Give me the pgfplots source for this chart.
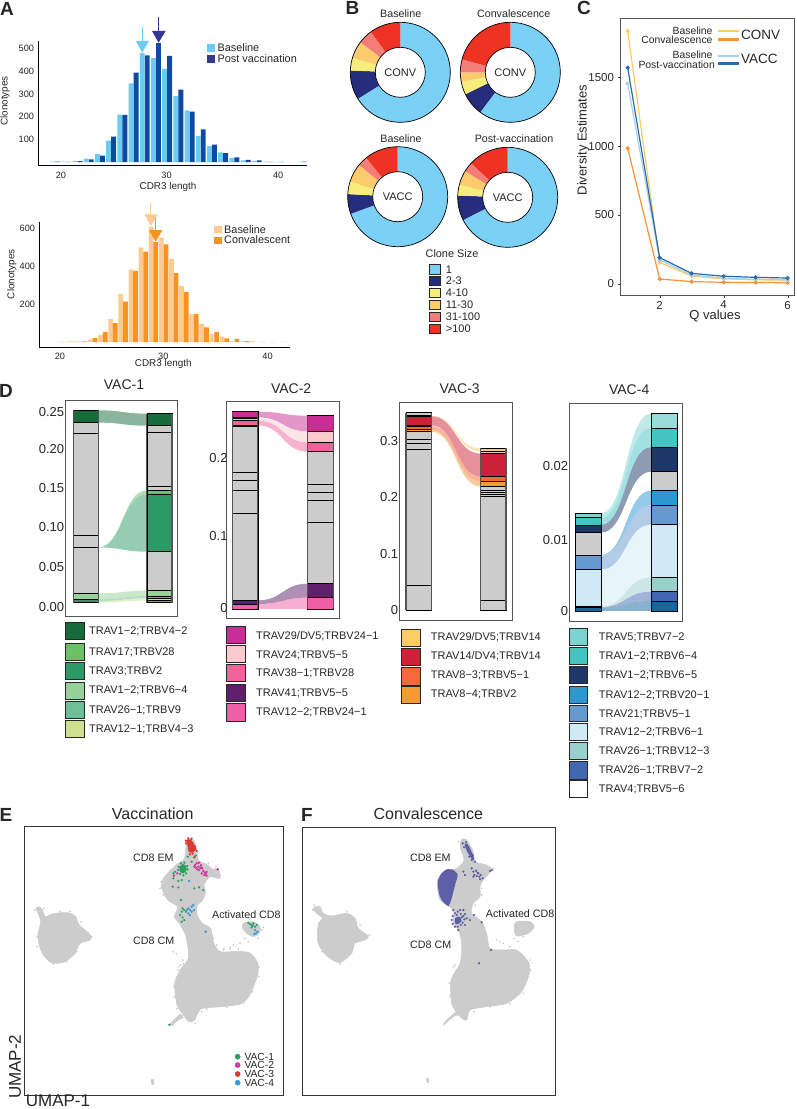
\documentclass[border=0pt]{standalone}
\usepackage{fontspec}
\setmainfont{Liberation Sans}
\usepackage{pgfplots}
\pgfplotsset{compat=1.18}

% colours
\definecolor{cbase}{HTML}{6CCBF5}\definecolor{cpost}{HTML}{1249A0}\definecolor{cpostar}{HTML}{353795}
\definecolor{obase}{HTML}{FBCB93}\definecolor{oconv}{HTML}{F7931E}
\definecolor{d1}{HTML}{7AD0F5}\definecolor{d2}{HTML}{262D7D}\definecolor{d3}{HTML}{F6ED7A}
\definecolor{d4}{HTML}{FBCB6E}\definecolor{d5}{HTML}{F37E78}\definecolor{d6}{HTML}{EE3324}
\definecolor{lo}{HTML}{FFC966}\definecolor{do}{HTML}{F7933A}\definecolor{lb}{HTML}{A6D1EE}\definecolor{db}{HTML}{2A6AA8}
\definecolor{cg}{HTML}{CCCCCC}\definecolor{frame}{HTML}{555555}
\definecolor{ga}{HTML}{156B3A}\definecolor{gb}{HTML}{6CC068}\definecolor{gc}{HTML}{2A9B66}
\definecolor{gd}{HTML}{97D19A}\definecolor{ge}{HTML}{6CBF96}\definecolor{gf}{HTML}{CFE08F}
\definecolor{ma}{HTML}{C92D96}\definecolor{mb}{HTML}{FBCBCF}\definecolor{mc}{HTML}{F0639A}
\definecolor{md}{HTML}{5F1F6B}\definecolor{me}{HTML}{EE5FA7}
\definecolor{ra}{HTML}{FFCB64}\definecolor{rb}{HTML}{CB2238}\definecolor{rc}{HTML}{F4683A}\definecolor{rd}{HTML}{F79A30}
\definecolor{ta}{HTML}{7DD3D0}\definecolor{tb}{HTML}{45C4C4}\definecolor{tc}{HTML}{1C3768}\definecolor{td}{HTML}{2C98D2}
\definecolor{te}{HTML}{6699CF}\definecolor{tf}{HTML}{D0EAF5}\definecolor{tg}{HTML}{9AD0CC}\definecolor{th}{HTML}{4267B2}\definecolor{ti}{HTML}{15659E}
\definecolor{pur}{HTML}{5C5EA6}\definecolor{ug}{HTML}{2AA05F}\definecolor{um}{HTML}{CF3A9E}\definecolor{ur}{HTML}{D93A30}\definecolor{ub}{HTML}{3A9BD8}

\newcommand\fs[1]{\fontsize{#1}{#1}\selectfont}
\newcommand\lab[4][]{\node[inner sep=0pt,text=black!85,anchor=west,#1] at (#2pt,-#3pt) {#4};}
\newcommand\swatch[5]{\draw[black!85,line width=.8pt,fill=#5] (#1pt,-#2pt) rectangle (#3pt,-#4pt);}
\newcommand\flatswatch[5]{\fill[#5] (#1pt,-#2pt) rectangle (#3pt,-#4pt);}

\pgfplotsset{
  place/.style n args={4}{scale only axis,anchor=south west,at={(#1pt,-#4pt)},width={#2pt-#1pt},height={#4pt-#3pt}},
  base/.style={/pgf/number format/assume math mode=true,/pgf/number format/1000 sep={},clip=false,scaled ticks=false},
  hist/.style={base,axis lines=left,axis line style={-,line width=1pt,black},
    ybar,bar shift=0pt,bar width=4.9pt,tick label style={font=\fs{9.2},text=black!85},
    ytick style={black,line width=.5pt},xtick style={draw=none},major tick length=1.5pt,
    label style={font=\fs{9.9},text=black!85}},
  bar/.style={draw=none,fill=#1,forget plot},
  arrow/.style={draw=#1,line width=1pt,forget plot,no marks,sharp plot},
  tri/.style={draw=none,fill=#1,forget plot,no marks,sharp plot},
  sank/.style={base,xtick=\empty,ytick style={draw=none},major tick length=0pt,
    xmin=#1,axis line style={draw=frame,line width=.9pt},
    tick label style={font=\fs{13},text=black!85},yticklabel style={inner sep=1pt},
    title style={font=\fs{14},text=black!85,anchor=center}},
  umap/.style={base,hide axis,y dir=reverse,scale only axis,anchor=center},
  pts/.style={only marks,mark=*,mark size=#1,mark options={draw=none},forget plot},
  blob/.style={draw=cg,fill=cg,line width=.5pt,no marks,smooth cycle,tension=.45,forget plot},
  line/.style={line width=1.2pt,mark=*,mark size=1.5pt,mark options={draw=none,fill opacity=.65},sharp plot,forget plot},
  donut/.style={base,hide axis,scale only axis,anchor=center,width=110pt,height=110pt,xmin=-55,xmax=55,ymin=-55,ymax=55},
}
% one column piece of a stacked alluvial bar
\newcommand\segL[3]{\addplot[draw=black,line width=.6pt,fill=#1,forget plot,sharp plot,no marks] coordinates {(.83,#2)(1.17,#2)(1.17,#3)(.83,#3)} -- cycle;}
\newcommand\segR[3]{\addplot[draw=black,line width=.6pt,fill=#1,forget plot,sharp plot,no marks] coordinates {(1.83,#2)(2.17,#2)(2.17,#3)(1.83,#3)} -- cycle;}
\newcommand\sides[4]{\addplot[draw=frame,line width=1.1pt,forget plot,sharp plot,no marks] coordinates {(#1,#3)(#1,#4)};
  \addplot[draw=frame,line width=1.1pt,forget plot,sharp plot,no marks] coordinates {(#2,#3)(#2,#4)};}
% flow: colour, left top, left bottom, right top, right bottom
\newcommand\flow[5]{\addplot[draw=none,fill=#1,fill opacity=.5,forget plot,sharp plot,no marks] coordinates {(1.17,#3)(1.17,#2)} .. controls (axis cs:1.5,#2) and (axis cs:1.5,#4) .. (axis cs:1.83,#4) -- (axis cs:1.83,#5) .. controls (axis cs:1.5,#5) and (axis cs:1.5,#3) .. (axis cs:1.17,#3) -- cycle;}
% pie slice of a donut, angles in polar degrees
\newcommand\slice[3]{\addplot[draw=none,fill=#1,data cs=polar,forget plot,sharp plot,no marks] coordinates {(#2,0)(#2,50)} arc[start angle=#2,end angle=#3,radius=50pt] -- cycle;}
\newcommand\donutrim{\draw[black,line width=.7pt] (axis cs:0,0) circle[radius=50pt];
  \draw[black,line width=.7pt,fill=white] (axis cs:0,0) circle[radius=25pt];}

\begin{document}
\begin{tikzpicture}
\useasboundingbox (0pt,0pt) rectangle (796pt,-1109pt);

%%% A top
\begin{axis}[hist,place={38.3}{307.3}{40.7}{165.7},xmin=17.98,xmax=42,ymin=-16,ymax=535,
  xtick={20,29.43,39.4},xticklabels={20,30,40},ytick={100,200,300,400,500},
  xticklabel style={yshift=-1pt},
  xlabel={CDR3 length},ylabel={Clonotypes},
  xlabel style={at={(axis description cs:.482,-.17)},anchor=center},
  ylabel style={at={(axis description cs:-.124,.518)},anchor=center}]
\addplot[bar=cbase] coordinates {(19.26,2)(20.26,2)(21.26,5)(22.26,15)(23.26,35)(24.26,95)(25.26,209)(26.26,347)(27.26,480)(28.26,458)(29.26,411)(30.26,291)(31.26,228)(32.26,115)(33.26,70)(34.26,43)(35.26,18)(36.26,8)(37.26,5)(38.26,2)(39.26,1)(40.26,1)(41.26,1)};
\addplot[bar=cpost] coordinates {(19.71,2)(20.71,1)(21.71,4)(22.71,12)(23.71,28)(24.71,112)(25.71,208)(26.71,394)(27.71,470)(28.71,524)(29.71,468)(30.71,319)(31.71,222)(32.71,144)(33.71,77)(34.71,39)(35.71,21)(36.71,10)(37.71,8)(38.71,1)(39.71,1)(41.71,2)};
\addplot[arrow=cbase] coordinates {(27.26,597)(27.26,531)};
\addplot[tri=cbase] coordinates {(26.70,534)(27.86,534)(27.26,482)} -- cycle;
\addplot[arrow=cpostar] coordinates {(28.72,641)(28.72,575)};
\addplot[tri=cpostar] coordinates {(28.13,578)(29.35,578)(28.72,526)} -- cycle;
\end{axis}

%%% A bottom
\begin{axis}[hist,place={39.3}{290}{221.7}{347.7},xmin=17.96,xmax=42.7,ymin=-30,ymax=633,
  xtick={20,30.2,40.49},xticklabels={20,30,40},ytick={200,400,600},bar width=4.7pt,
  xlabel={CDR3 length},ylabel={Clonotypes},
  xlabel style={at={(axis description cs:.4945,-.132)},anchor=center},
  ylabel style={at={(axis description cs:-.11,.583)},anchor=center}]
\addplot[bar=obase] coordinates {(20,2)(21,3)(22,3)(23,14)(24,38)(25,121)(26,253)(27,382)(28,498)(29,607)(30,551)(31,437)(32,295)(33,146)(34,95)(35,42)(36,28)(37,5)(38,3)(39,3)(40,2)(41,1)(42,1)};
\addplot[bar=oconv] coordinates {(20.46,1)(21.46,2)(22.46,3)(23.46,21)(24.46,53)(25.46,100)(26.46,212)(27.46,374)(28.46,475)(29.46,525)(30.46,514)(31.46,363)(32.46,263)(33.46,147)(34.46,77)(35.46,53)(36.46,19)(37.46,16)(38.46,5)};
\addplot[arrow=obase] coordinates {(28.98,733)(28.98,668)};
\addplot[tri=obase] coordinates {(28.32,672)(29.64,672)(28.98,611)} -- cycle;
\addplot[arrow=oconv] coordinates {(29.44,654)(29.44,589)};
\addplot[tri=oconv] coordinates {(28.78,589)(30.10,589)(29.44,528)} -- cycle;
\end{axis}

%%% B donuts
\begin{axis}[donut,at={(400.3pt,-72.3pt)}]
\slice{d1}{90}{-148}\slice{d2}{-148}{-182}\slice{d3}{-182}{-197}\slice{d4}{-197}{-217}\slice{d5}{-217}{-234}\slice{d6}{-234}{-270}
\donutrim
\end{axis}
\begin{axis}[donut,at={(510.3pt,-72.3pt)}]
\slice{d1}{90}{-127}\slice{d2}{-127}{-154}\slice{d3}{-154}{-169}\slice{d4}{-169}{-180}\slice{d5}{-180}{-195}\slice{d6}{-195}{-270}
\donutrim
\end{axis}
\begin{axis}[donut,at={(397.7pt,-196.7pt)}]
\slice{d1}{90}{-160}\slice{d2}{-160}{-183}\slice{d3}{-183}{-197.5}\slice{d4}{-197.5}{-219.5}\slice{d5}{-219.5}{-231}\slice{d6}{-231}{-270}
\donutrim
\end{axis}
\begin{axis}[donut,at={(507.7pt,-197.3pt)}]
\slice{d1}{90}{-153}\slice{d2}{-153}{-182}\slice{d3}{-182}{-195}\slice{d4}{-195}{-211.6}\slice{d5}{-211.6}{-223}\slice{d6}{-223}{-270}
\donutrim
\end{axis}

%%% C
\begin{axis}[base,place={620}{794}{18.3}{295},xmin=.76,xmax=6.2,ymin=-82.4,ymax=1929,
  xtick={2,4,6},ytick={0,500,1000,1500},xtick pos=bottom,ytick pos=left,tick align=outside,
  major tick length=2.5pt,axis line style={draw=frame,line width=1pt},tick style={black!80},
  tick label style={font=\fs{11.5},text=black!85},label style={font=\fs{13},text=black!85},
  xlabel={Q values},ylabel={Diversity Estimates},
  xlabel style={at={(axis description cs:.546,-.076)},anchor=center},
  ylabel style={at={(axis description cs:-.211,.56)},anchor=center}]
\addplot[line,color=lo] coordinates {(1,1837)(2,155)(3,55)(4,35)(5,28)(6,25)};
\addplot[line,color=do] coordinates {(1,984)(2,34)(3,15)(4,10)(5,8)(6,7)};
\addplot[line,color=lb] coordinates {(1,1454)(2,172)(3,63)(4,40)(5,32)(6,28)};
\addplot[line,color=db] coordinates {(1,1570)(2,189)(3,75)(4,54)(5,46)(6,41)};
\end{axis}
\draw[lo,line width=2.4pt] (717.7pt,-30.7pt) -- (739.3pt,-30.7pt);
\draw[do,line width=2.4pt] (717.7pt,-39.3pt) -- (739.3pt,-39.3pt);
\draw[lb,line width=2.4pt] (717.7pt,-56pt) -- (739.3pt,-56pt);
\draw[db,line width=2.4pt] (717.7pt,-63.3pt) -- (739.3pt,-63.3pt);
\lab[anchor=east]{712.7}{31}{\fs{10.4}Baseline}
\lab[anchor=east]{712.7}{39.7}{\fs{10.4}Convalescence}
\lab[anchor=east]{712.7}{54.3}{\fs{10.4}Baseline}
\lab[anchor=east]{715}{65}{\fs{10.4}Post-vaccination}
\lab{741}{34.7}{\fs{13.5}CONV}
\lab{741}{59.3}{\fs{13.5}VACC}

%%% D
\begin{axis}[sank=.7217,place={65.3}{177.3}{400}{616.7},xmax=2.242,ymin=-.01795,ymax=.2598,
  ytick={-.005,.046,.0974,.1474,.197,.245},yticklabels={0.00,0.05,0.10,0.15,0.20,0.25},
  title={VAC-1},title style={at={(axis description cs:.524,1.0415)}}]
\flow{ga}{.2466}{.2308}{.2423}{.2269}
\flow{gb}{.0709}{.0709}{.1440}{.1389}
\flow{gc}{.0709}{.0709}{.1389}{.0654}
\flow{gd}{.0120}{.0043}{.0154}{.0085}
\flow{ge}{.0043}{.0021}{.0085}{.0056}
\flow{gf}{.0021}{0}{.0056}{.0026}
\segL{ga}{.2466}{.2308}\segL{cg}{.2308}{.2171}\segL{cg}{.2171}{.0863}\segL{cg}{.0863}{.0709}\segL{cg}{.0709}{.0120}
\segL{gd}{.0120}{.0043}\segL{ge!70!black}{.0043}{0}
\segR{ga}{.2423}{.2269}\segR{cg}{.2269}{.2179}\segR{cg}{.2179}{.1491}\segR{cg}{.1491}{.1440}\segR{gb}{.1440}{.1389}
\segR{gc}{.1389}{.0654}\segR{cg}{.0654}{.0154}\segR{gd}{.0154}{.0085}\segR{ge}{.0085}{.0056}\segR{gf}{.0056}{.0026}\segR{gf!70!black}{.0026}{0}
\sides{.83}{1.17}{0}{.2466}\sides{1.83}{2.17}{0}{.2423}
\end{axis}

\begin{axis}[sank=.758,place={226.7}{339.3}{401.7}{618.3},xmax=2.247,ymin=-.0125,ymax=.2777,
  ytick={.0018,.0982,.2018},yticklabels={0,0.1,0.2},yticklabel style={xshift=2pt},
  title={VAC-2},title style={at={(axis description cs:.572,1.034)}}]
\flow{ma}{.2643}{.2567}{.2589}{.2379}
\flow{mb}{.2554}{.2522}{.2379}{.2232}
\flow{mc}{.2522}{.2460}{.2232}{.2107}
\flow{md}{.0116}{.0067}{.0339}{.0152}
\flow{me}{.0067}{0}{.0152}{0}
\segL{ma}{.2643}{.2567}\segL{cg}{.2567}{.2554}\segL{mb!60!cg}{.2554}{.2522}\segL{mc}{.2522}{.2460}\segL{cg}{.2460}{.2442}
\segL{cg}{.2442}{.1830}\segL{cg}{.1830}{.1723}\segL{cg}{.1723}{.1594}\segL{cg}{.1594}{.1281}\segL{cg}{.1281}{.0116}
\segL{md}{.0116}{.0067}\segL{me}{.0067}{0}
\segR{ma}{.2589}{.2379}\segR{mb}{.2379}{.2232}\segR{mc}{.2232}{.2107}\segR{cg}{.2107}{.1670}\segR{cg}{.1670}{.1563}
\segR{cg}{.1563}{.1455}\segR{cg}{.1455}{.1161}\segR{cg}{.1161}{.0339}\segR{md}{.0339}{.0152}\segR{me}{.0152}{0}
\sides{.83}{1.17}{0}{.2643}\sides{1.83}{2.17}{0}{.2589}
\end{axis}

\begin{axis}[sank=.741,place={399.3}{512.3}{402.7}{620},xmax=2.254,ymin=-.0171,ymax=.3671,
  ytick={0,.1,.2,.3},yticklabels={0,0.1,0.2,0.3},
  title={VAC-3},title style={at={(axis description cs:.534,1.035)}}]
\flow{ra}{.3441}{.3430}{.2864}{.2811}
\flow{rb}{.3430}{.3270}{.2770}{.2369}
\flow{rc}{.3259}{.3194}{.2369}{.2280}
\flow{rd}{.3194}{.3158}{.2280}{.2192}
\segL{cg}{.3494}{.3441}\segL{ra}{.3441}{.3430}\segL{rb}{.3430}{.3270}\segL{cg}{.3270}{.3259}\segL{rc}{.3259}{.3194}\segL{rd}{.3194}{.3158}
\segL{cg}{.3158}{.3023}\segL{cg}{.3023}{.2952}\segL{cg}{.2952}{.2846}\segL{cg}{.2846}{.0448}\segL{cg}{.0448}{0}
\segR{ra}{.2864}{.2811}\segR{cg}{.2811}{.2770}\segR{rb}{.2770}{.2369}\segR{rc}{.2369}{.2280}\segR{rd}{.2280}{.2192}
\segR{cg}{.2192}{.2116}\segR{cg}{.2116}{.2086}\segR{cg}{.2086}{.2051}\segR{cg}{.2051}{.2015}\segR{cg}{.2015}{.0177}\segR{cg}{.0177}{0}
\sides{.83}{1.17}{0}{.3494}\sides{1.83}{2.17}{0}{.2864}
\end{axis}

\begin{axis}[sank=.754,place={569.3}{682.3}{403.3}{621},xmax=2.241,ymin=-.00141,ymax=.02925,
  ytick={0,.01,.0204},yticklabels={0,0.01,0.02},
  title={VAC-4},title style={at={(axis description cs:.530,1.0355)}}]
\flow{ta}{.01376}{.01315}{.02779}{.02577}
\flow{tb}{.01315}{.01211}{.02577}{.02305}
\flow{tc}{.01211}{.01103}{.02305}{.01962}
\flow{td}{.00789}{.00789}{.01695}{.01488}
\flow{te}{.00789}{.00582}{.01488}{.01216}
\flow{tf}{.00582}{.00061}{.01216}{.00474}
\flow{tg}{.00061}{.00055}{.00474}{.00272}
\flow{th}{.00055}{.00047}{.00272}{.00141}
\flow{ti}{.00047}{0}{.00141}{0}
\segL{ta}{.01376}{.01315}\segL{tb}{.01315}{.01211}\segL{tc}{.01211}{.01103}\segL{cg}{.01103}{.00789}\segL{te}{.00789}{.00582}
\segL{tf}{.00582}{.00061}\segL{tg}{.00061}{.00047}\segL{ti}{.00047}{0}
\segR{ta!80!white}{.02779}{.02577}\segR{tb}{.02577}{.02305}\segR{tc}{.02305}{.01962}\segR{cg}{.01962}{.01695}\segR{td}{.01695}{.01488}
\segR{te}{.01488}{.01216}\segR{tf}{.01216}{.00474}\segR{tg}{.00474}{.00272}\segR{th}{.00272}{.00141}\segR{ti}{.00141}{0}
\end{axis}

%%% E
\begin{axis}[umap,at={(154pt,-961.2pt)},width=258.6pt,height=269pt,xmin=74,xmax=850,ymin=50,ymax=857]
\addplot[blob] coordinates {(118,290)(128,300)(135,320)(150,314)(170,309)(205,308)(226,318)(238,345)(272,375)(270,390)(240,400)(225,430)(195,455)(170,460)(150,456)(128,432)(116,400)(114,370)(122,335)(112,305)(108,295)};
\addplot[blob] coordinates {(565,88)(582,92)(592,125)(595,150)(620,163)(640,178)(655,175)(660,205)(630,200)(612,225)(617,245)(607,272)(592,285)(592,315)(607,340)(632,355)(642,400)(662,425)(710,424)(748,428)(772,455)(774,490)(752,550)(722,582)(640,592)(602,597)(582,632)(565,634)(545,607)(530,582)(524,520)(540,480)(565,445)(558,380)(538,340)(523,320)(533,290)(503,270)(484,230)(493,200)(528,165)(553,145)(558,110)};
\addplot[blob] coordinates {(730,340)(760,335)(780,350)(778,370)(760,380)(740,370)(728,355)};
\addplot[blob] coordinates {(453,810)(460,808)(462,820)(456,824)};
\addplot[blob] coordinates {(540,612)(528,625)(510,642)(515,648)(535,630)(550,622)};
\addplot[pts=.7pt,color=cg] coordinates {(520,425)(530,432)(548,450)(720,400)(715,418)(690,412)(700,405)(745,395)(735,385)(650,405)(672,415)(542,465)(535,470)(560,455)(605,605)(585,640)(785,360)(790,352)(775,385)(480,235)(484,215)(490,255)(660,195)(648,170)(625,160)(530,595)(523,560)(522,530)(535,480)(550,462)(600,345)(640,385)(670,420)(690,418)(778,470)(776,500)(757,545)(730,578)(680,592)(620,597)(120,300)(132,295)(105,300)(275,380)(112,380)(112,410)(135,440)(160,462)(200,455)(230,425)(243,335)(210,305)(180,305)};
\addplot[draw=none,fill=ur,smooth cycle,tension=.4,forget plot,no marks] coordinates {(560,90)(572,88)(581,100)(588,118)(578,127)(567,127)(563,110)};
\addplot[draw=none,fill=ug,smooth cycle,tension=.4,forget plot,no marks] coordinates {(538,172)(548,162)(558,167)(560,180)(550,190)(540,186)};
\addplot[pts=.9pt,color=ug] coordinates {(534,180)(536,170)(543,160)(553,158)(562,168)(563,178)(558,190)(550,196)(540,192)(520,190)(525,185)(520,205)(545,210)(535,213)(518,230)(535,232)(583,235)(597,232)(610,240)(543,270)(548,295)(552,300)(545,305)(540,315)(548,322)(553,330)(545,335)(558,305)(563,140)(587,137)(575,155)(508,644)(750,342)(760,340)(770,345)(755,345)(765,350)(745,338)(758,347)};
\addplot[pts=1pt,color=um] coordinates {(585,165)(590,160)(597,158)(603,165)(595,170)(588,173)(600,175)(607,175)(597,180)(610,183)(615,188)(620,186)(613,195)(620,197)(605,190)(583,170)(592,178)(603,172)(617,192)(653,178)(522,197)(532,190)};
\addplot[pts=1pt,color=ur] coordinates {(583,142)(558,92)(590,122)(585,110)(558,100)(570,133)(578,130)(565,85)(575,86)};
\addplot[pts=1pt,color=ub] coordinates {(565,295)(570,300)(575,290)(580,285)(565,310)(570,315)(575,305)(582,300)(560,300)(617,365)(567,213)(765,360)(768,370)(763,372)(772,365)(755,352)};
\addplot[pts=2.6pt,color=ug] coordinates {(713,740)};
\addplot[pts=2.6pt,color=um] coordinates {(713,765)};
\addplot[pts=2.6pt,color=ur] coordinates {(713,792)};
\addplot[pts=2.6pt,color=ub] coordinates {(713,818)};
\end{axis}
\draw[frame!60!black,line width=1pt] (24.7pt,-826.7pt) rectangle (283.3pt,-1095.7pt);

%%% F
\begin{axis}[umap,at={(428.85pt,-961.15pt)},width=252.3pt,height=267.7pt,xmin=38,xmax=795,ymin=52,ymax=855]
\addplot[blob] coordinates {(75,290)(90,290)(100,310)(125,318)(170,310)(195,325)(205,355)(235,378)(225,390)(195,400)(185,430)(150,458)(120,445)(95,420)(82,390)(85,340)(98,325)(80,310)(70,298)};
\addplot[blob] coordinates {(515,88)(530,90)(550,125)(555,155)(590,165)(605,180)(580,210)(570,230)(570,260)(550,280)(545,310)(575,335)(590,370)(600,415)(640,420)(680,420)(715,455)(718,490)(695,545)(650,580)(590,590)(540,600)(530,630)(510,620)(485,580)(483,510)(510,460)(515,400)(505,360)(490,340)(490,300)(450,270)(442,215)(460,185)(500,175)(522,150)(510,110)};
\addplot[blob] coordinates {(680,335)(720,335)(733,350)(715,370)(680,378)(672,355)};
\addplot[blob] coordinates {(515,612)(490,620)(460,645)(470,630)(500,605)};
\addplot[blob] coordinates {(410,804)(415,806)(416,818)(411,816)};
\addplot[pts=.7pt,color=cg] coordinates {(672,385)(685,395)(660,410)(640,400)(630,395)(495,465)(500,480)(490,470)(700,380)(690,370)(620,390)(478,520)(480,560)(490,590)(552,605)(600,590)(660,582)(700,550)(722,480)(720,450)(515,105)(505,95)(610,175)(575,235)(575,255)(555,285)(72,285)(68,300)(238,375)(210,345)(172,305)(100,330)(150,462)(95,425)};
\addplot[draw=none,fill=pur,smooth cycle,tension=.4,forget plot,no marks] coordinates {(470,178)(490,180)(503,195)(495,225)(485,265)(475,288)(455,270)(447,250)(443,215)(455,190)};
\addplot[draw=none,fill=pur,smooth cycle,tension=.4,forget plot,no marks] coordinates {(495,325)(508,320)(515,332)(505,342)(495,340)};
\addplot[draw=none,fill=pur,smooth cycle,tension=.4,forget plot,no marks] coordinates {(524,103)(532,101)(543,122)(553,146)(548,150)(532,126)};
\addplot[pts=.9pt,color=pur] coordinates {(550,185)(558,182)(565,190)(572,195)(578,205)(570,208)(560,198)(553,195)(605,180)(600,183)(545,175)(520,185)(525,195)(550,200)(520,300)(510,300)(490,300)(525,345)(540,330)(552,315)(575,337)(603,420)(567,460)(505,360)(530,325)
(488,318)(495,310)(503,305)(512,312)(520,318)(523,328)(518,338)(512,345)(503,350)(495,350)(488,342)(485,330)(500,315)(515,322)(525,312)(518,100)(528,96)(522,112)(535,115)(538,140)(545,150)(555,155)(548,135)(563,188)(568,200)};
\end{axis}
\draw[frame!60!black,line width=1pt] (302.7pt,-827.3pt) rectangle (555pt,-1095pt);

%%% panel titles and annotation text
\lab[anchor=center]{7}{9}{\fs{19}\bfseries A}
\lab[anchor=center]{352.5}{8}{\fs{19}\bfseries B}
\lab[anchor=center]{584}{8}{\fs{19}\bfseries C}
\lab[anchor=center]{6}{391}{\fs{19}\bfseries D}
\lab[anchor=center]{6}{815}{\fs{19}\bfseries E}
\lab[anchor=center]{307}{815}{\fs{19}\bfseries F}

\flatswatch{207.3}{44.3}{215}{51.7}{cbase}\flatswatch{207.3}{55.3}{215}{62.7}{cpostar}
\lab{217.3}{48}{\fs{10.9}Baseline}\lab{217.3}{58.5}{\fs{10.9}Post vaccination}
\flatswatch{214}{226}{221.7}{233.3}{obase}\flatswatch{214}{236.7}{221.7}{244}{oconv}
\lab{224}{229.5}{\fs{10.9}Baseline}\lab{224}{240}{\fs{10.9}Convalescent}

\lab[anchor=center]{400.7}{14}{\fs{10.7}Baseline}
\lab[anchor=center]{513.7}{14}{\fs{10.7}Convalescence}
\lab[anchor=center]{401}{139}{\fs{10.7}Baseline}
\lab[anchor=center]{514}{139}{\fs{10.7}Post-vaccination}
\lab[anchor=center]{400.3}{72.3}{\fs{11}CONV}
\lab[anchor=center]{510.3}{72.3}{\fs{11}CONV}
\lab[anchor=center]{397.7}{196.7}{\fs{11}VACC}
\lab[anchor=center]{507.7}{197.3}{\fs{11}VACC}
\lab[anchor=center]{452}{253.3}{\fs{10.9}Clone Size}
\swatch{429}{264.7}{440}{274}{d1}\lab{445.7}{269.3}{\fs{11}1}
\swatch{429}{276.3}{440}{285.7}{d2}\lab{445.7}{281}{\fs{11}2-3}
\swatch{429}{288.3}{440}{297.7}{d3}\lab{445.7}{293}{\fs{11}4-10}
\swatch{429}{300.3}{440}{309.7}{d4}\lab{445.7}{305}{\fs{11}11-30}
\swatch{429}{312.3}{440}{321.7}{d5}\lab{445.7}{317}{\fs{11}31-100}
\swatch{429}{324.3}{440}{333.7}{d6}\lab{445.7}{329}{\fs{11}>100}

\swatch{65.7}{622.3}{84}{639.3}{ga}\lab{89}{631}{\fs{11}TRAV1−2;TRBV4−2}
\swatch{65.7}{643.3}{84}{660.7}{gb}\lab{89}{652}{\fs{11}TRAV17;TRBV28}
\swatch{65.7}{662.3}{84}{679}{gc}\lab{89}{671}{\fs{11}TRAV3;TRBV2}
\swatch{65.7}{682.3}{84}{699}{gd}\lab{89}{690}{\fs{11}TRAV1−2;TRBV6−4}
\swatch{65.7}{701.5}{84}{718.5}{ge}\lab{89}{710}{\fs{11}TRAV26−1;TRBV9}
\swatch{65.7}{720.5}{84}{737.5}{gf}\lab{89}{729}{\fs{11}TRAV12−1;TRBV4−3}

\swatch{226.7}{626}{245}{643.3}{ma}\lab{256}{636}{\fs{11}TRAV29/DV5;TRBV24−1}
\swatch{226.7}{645}{245}{662.3}{mb}\lab{256}{655}{\fs{11}TRAV24;TRBV5−5}
\swatch{226.7}{664.3}{245}{681.7}{mc}\lab{256}{673}{\fs{11}TRAV38−1;TRBV28}
\swatch{226.7}{684.3}{245}{701.7}{md}\lab{256}{693}{\fs{11}TRAV41;TRBV5−5}
\swatch{226.7}{703.7}{245}{721}{me}\lab{256}{712}{\fs{11}TRAV12−2;TRBV24−1}

\swatch{401.7}{629}{420}{646.7}{ra}\lab{430.7}{637}{\fs{11}TRAV29/DV5;TRBV14}
\swatch{401.7}{648.3}{420}{665.7}{rb}\lab{430.7}{656}{\fs{11}TRAV14/DV4;TRBV14}
\swatch{401.7}{667.7}{420}{685}{rc}\lab{430.7}{675}{\fs{11}TRAV8−3;TRBV5−1}
\swatch{401.7}{686.5}{420}{703.7}{rd}\lab{430.7}{694}{\fs{11}TRAV8−4;TRBV2}

\swatch{569.3}{628.3}{587.7}{645.7}{ta}\lab{598.7}{637}{\fs{11}TRAV5;TRBV7−2}
\swatch{569.3}{647.3}{587.7}{664.3}{tb}\lab{598.7}{656}{\fs{11}TRAV1−2;TRBV6−4}
\swatch{569.3}{666}{587.7}{683}{tc}\lab{598.7}{675}{\fs{11}TRAV1−2;TRBV6−5}
\swatch{569.3}{686}{587.7}{703.3}{td}\lab{598.7}{695}{\fs{11}TRAV12−2;TRBV20−1}
\swatch{569.3}{705}{587.7}{721.7}{te}\lab{598.7}{714}{\fs{11}TRAV21;TRBV5−1}
\swatch{569.3}{723.3}{587.7}{740.7}{tf}\lab{598.7}{732}{\fs{11}TRAV12−2;TRBV6−1}
\swatch{569.3}{742.3}{587.7}{759.7}{tg}\lab{598.7}{751}{\fs{11}TRAV26−1;TRBV12−3}
\swatch{569.3}{761.3}{587.7}{779}{th}\lab{598.7}{770}{\fs{11}TRAV26−1;TRBV7−2}
\swatch{569.3}{780}{587.7}{797.3}{white}\lab{598.7}{789}{\fs{11}TRAV4;TRBV5−6}

\lab[anchor=center]{152.7}{814}{\fs{16}Vaccination}
\lab{133}{858}{\fs{10.7}CD8 EM}
\lab{212}{914.3}{\fs{10.7}Activated CD8}
\lab{133}{941}{\fs{10.7}CD8 CM}
\lab{244.3}{1056.5}{\fs{10.3}VAC-1}
\lab{244.3}{1065.2}{\fs{10.3}VAC-2}
\lab{244.3}{1073.9}{\fs{10.3}VAC-3}
\lab{244.3}{1082.6}{\fs{10.3}VAC-4}
\lab[anchor=center,rotate=90]{15}{1066.7}{\fs{17}UMAP-2}
\lab[anchor=center]{58}{1100.5}{\fs{17}UMAP-1}

\lab[anchor=center]{428.3}{814}{\fs{16}Convalescence}
\lab{410}{858}{\fs{10.7}CD8 EM}
\lab{485.7}{913.3}{\fs{10.7}Activated CD8}
\lab{410}{945.3}{\fs{10.7}CD8 CM}
\end{tikzpicture}
\end{document}
